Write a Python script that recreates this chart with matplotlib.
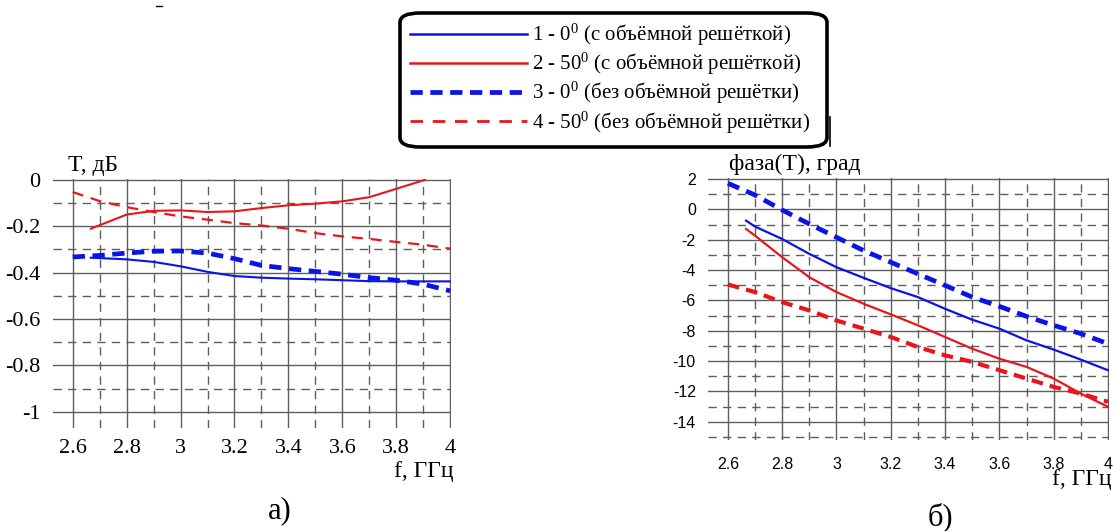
import matplotlib
matplotlib.use("Agg")
import matplotlib.pyplot as plt
from matplotlib.lines import Line2D
from matplotlib.patches import FancyBboxPatch
from matplotlib.ticker import MultipleLocator

plt.rcParams['axes.unicode_minus'] = False
plt.rcParams['mathtext.fontset'] = 'custom'
plt.rcParams['mathtext.rm'] = 'Liberation Serif'
plt.rcParams['mathtext.it'] = 'Liberation Serif:italic'
plt.rcParams['mathtext.bf'] = 'Liberation Serif:bold'

# ---------------- data: panel a) T, dB ----------------
x1_a = [2.667, 2.8, 2.9, 3.0, 3.1, 3.2, 3.3, 3.4, 3.5, 3.6, 3.7, 3.8, 3.9, 4.0]
y1_a = [-0.336, -0.343, -0.354, -0.373, -0.397, -0.415, -0.422, -0.426, -0.429, -0.433, -0.437, -0.438, -0.438, -0.438]
x2_a = [2.667, 2.8, 2.9, 3.0, 3.1, 3.2, 3.3, 3.4, 3.5, 3.6, 3.7, 3.8, 3.907]
y2_a = [-0.211, -0.150, -0.134, -0.132, -0.139, -0.136, -0.122, -0.110, -0.103, -0.093, -0.075, -0.039, 0.0]
x3_a = [2.6, 2.7, 2.8, 2.9, 3.0, 3.1, 3.2, 3.3, 3.4, 3.5, 3.6, 3.7, 3.8, 3.9, 4.0]
y3_a = [-0.333, -0.326, -0.316, -0.308, -0.307, -0.316, -0.340, -0.369, -0.383, -0.395, -0.407, -0.422, -0.433, -0.450, -0.479]
x4_a = [2.6, 2.7, 2.8, 2.9, 3.0, 3.1, 3.2, 3.3, 3.4, 3.5, 3.6, 3.7, 3.8, 3.9, 4.0]
y4_a = [-0.053, -0.092, -0.118, -0.139, -0.158, -0.172, -0.187, -0.197, -0.211, -0.230, -0.244, -0.255, -0.268, -0.280, -0.297]

# ---------------- data: panel б) phase, deg ----------------
x1_b = [2.667, 2.7, 2.8, 2.9, 3.0, 3.1, 3.2, 3.3, 3.4, 3.5, 3.6, 3.7, 3.8, 3.9, 4.0]
y1_b = [-0.74, -1.13, -1.95, -2.93, -3.81, -4.51, -5.19, -5.78, -6.55, -7.27, -7.86, -8.63, -9.24, -9.90, -10.60]
x2_b = [2.667, 2.7, 2.8, 2.9, 3.0, 3.1, 3.2, 3.3, 3.4, 3.5, 3.6, 3.7, 3.8, 3.9, 4.0]
y2_b = [-1.29, -1.73, -3.15, -4.47, -5.45, -6.22, -6.92, -7.64, -8.41, -9.18, -9.84, -10.38, -11.15, -12.14, -13.01]
x3_b = [2.6, 2.7, 2.8, 2.9, 3.0, 3.1, 3.2, 3.3, 3.4, 3.5, 3.6, 3.7, 3.8, 3.9, 4.0]
y3_b = [1.72, 0.95, -0.04, -0.96, -1.84, -2.71, -3.48, -4.25, -5.01, -5.78, -6.39, -7.05, -7.64, -8.19, -8.85]
x4_b = [2.6, 2.7, 2.8, 2.9, 3.0, 3.1, 3.2, 3.3, 3.4, 3.5, 3.6, 3.7, 3.8, 3.9, 4.0]
y4_b = [-4.95, -5.45, -6.11, -6.66, -7.32, -7.86, -8.41, -9.07, -9.62, -10.05, -10.60, -11.15, -11.70, -12.14, -12.68]

xticks = [2.6, 2.8, 3.0, 3.2, 3.4, 3.6, 3.8, 4.0]
xticklabels = ["2.6", "2.8", "3", "3.2", "3.4", "3.6", "3.8", "4"]
yticks_a = [0, -0.2, -0.4, -0.6, -0.8, -1.0]
yticklabels_a = ["0", "-0.2", "-0.4", "-0.6", "-0.8", "-1"]
yticks_b = [2, 0, -2, -4, -6, -8, -10, -12, -14]
yticklabels_b = ["2", "0", "-2", "-4", "-6", "-8", "-10", "-12", "-14"]

legend_labels = ["1 - 0$^{0}$ (с объёмной решёткой)",
                 "2 - 50$^{0}$ (с объёмной решёткой)",
                 "3 - 0$^{0}$ (без объёмной решётки)",
                 "4 - 50$^{0}$ (без объёмной решётки)"]

SERIF = ['Liberation Serif', 'DejaVu Serif']
SANS = ['Liberation Sans', 'DejaVu Sans']
BLUE = '#0a14e6'
RED = '#e8161c'
GRID = '#5e5e5e'

fig = plt.figure(figsize=(11.13, 5.31), dpi=100)

W, H = 1113, 531
def ax_rect(l, t, r, b):
    return [l / W, 1 - b / H, (r - l) / W, (b - t) / H]

ax_a = fig.add_axes(ax_rect(53, 179.3, 451, 428))
ax_b = fig.add_axes(ax_rect(708.3, 178.3, 1108.5, 440))

def style_grid(ax, xmin, xmax, ymin, ymax, yminor):
    ax.set_xlim(xmin, xmax)
    ax.set_ylim(ymin, ymax)
    ax.xaxis.set_minor_locator(MultipleLocator(0.1))
    ax.yaxis.set_minor_locator(MultipleLocator(yminor))
    ax.grid(which='major', color=GRID, lw=1.0, ls='-')
    ax.grid(which='minor', color=GRID, lw=1.0, ls=(0, (6, 4.5)))
    for s in ax.spines.values():
        s.set_visible(False)
    ax.tick_params(which='both', length=0)
    ax.set_axisbelow(True)

# ---- panel a ----
style_grid(ax_a, 2.527, 4.003, -1.07, 0.002, 0.1)
ax_a.plot(x1_a, y1_a, color=BLUE, lw=1.5)
ax_a.plot(x2_a, y2_a, color=RED, lw=1.5)
ax_a.plot(x3_a, y3_a, color=BLUE, lw=3.4, ls=(0, (2.6, 1.6)))
ax_a.plot(x4_a, y4_a, color=RED, lw=1.6, ls=(0, (5, 3.5)))
ax_a.set_xticks(xticks)
ax_a.set_xticklabels(xticklabels, fontfamily=SERIF, fontsize=16)
ax_a.set_yticks(yticks_a)
ax_a.set_yticklabels(yticklabels_a, fontfamily=SERIF, fontsize=16)
ax_a.tick_params(axis='x', pad=8)
ax_a.tick_params(axis='y', pad=9)

# ---- panel b ----
style_grid(ax_b, 2.528, 4.002, -15.2, 2.05, 1)
ax_b.plot(x1_b, y1_b, color=BLUE, lw=1.6)
ax_b.plot(x2_b, y2_b, color=RED, lw=1.6)
ax_b.plot(x3_b, y3_b, color=BLUE, lw=3.4, ls=(0, (2.6, 1.6)))
ax_b.plot(x4_b, y4_b, color=RED, lw=3.0, ls=(0, (2.8, 1.7)))
ax_b.set_xticks(xticks)
ax_b.set_xticklabels(xticklabels, fontfamily=SANS, fontsize=11.5)
ax_b.set_yticks(yticks_b)
ax_b.set_yticklabels(yticklabels_b, fontfamily=SANS, fontsize=11.5)
ax_b.tick_params(axis='x', pad=12)
ax_b.tick_params(axis='y', pad=9)

# ---- text ----
fig.text(68 / W, 1 - 166 / H, "T, дБ", fontfamily=SERIF, fontsize=17, va='center', ha='left')
fig.text(454 / W, 1 - 472 / H, "f, ГГц", fontfamily=SERIF, fontsize=17, va='center', ha='right')
fig.text(280 / W, 1 - 511 / H, "а)", fontfamily=SERIF, fontsize=22, va='center', ha='center')
fig.text(729 / W, 1 - 164 / H, "фаза(T), град", fontfamily=SERIF, fontsize=17, va='center', ha='left')
fig.text(1112 / W, 1 - 480 / H, "f, ГГц", fontfamily=SERIF, fontsize=17, va='center', ha='right')
fig.text(940 / W, 1 - 517 / H, "б)", fontfamily=SERIF, fontsize=22, va='center', ha='center')

# ---- legend ----
frame = FancyBboxPatch((400 / W, 1 - 147 / H), 427 / W, 134 / H,
                       boxstyle='round,pad=0,rounding_size=0.018',
                       transform=fig.transFigure, facecolor='white',
                       edgecolor='black', lw=2.6, zorder=1)
fig.add_artist(frame)
handles = [Line2D([], [], color=BLUE, lw=1.8),
           Line2D([], [], color=RED, lw=1.8),
           Line2D([], [], color=BLUE, lw=3.4, ls=(0, (2.6, 1.6))),
           Line2D([], [], color=RED, lw=2.0, ls=(0, (4.5, 3.5)))]
leg = fig.legend(handles, legend_labels, loc='upper left',
                 bbox_to_anchor=(410 / W, 1 - 22 / H),
                 prop={'family': SERIF, 'size': 15},
                 handlelength=5.6, handletextpad=0.25, labelspacing=0.14,
                 borderpad=0, borderaxespad=0, frameon=False)
leg.set_zorder(2)

# small stray marks of the original image
fig.add_artist(Line2D([830 / W, 830 / W], [1 - 117 / H, 1 - 146 / H], color='black', lw=1.2))
fig.add_artist(Line2D([156 / W, 162 / W], [1 - 6 / H, 1 - 6 / H], color='black', lw=1.0))

fig.savefig("out.png", dpi=100)
